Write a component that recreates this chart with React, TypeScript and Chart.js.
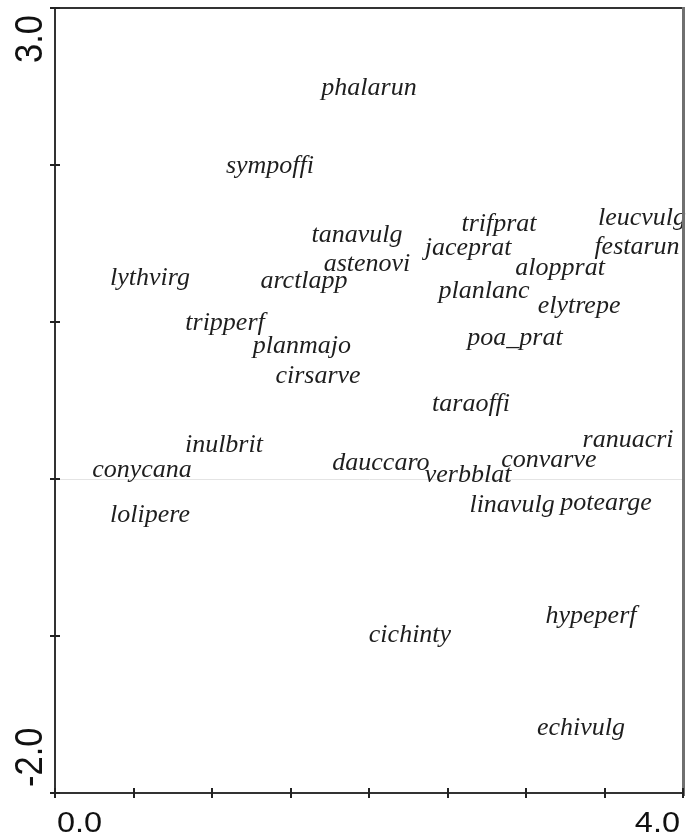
import React, { useEffect, useRef } from 'react';
import { Chart, registerables } from 'chart.js';

Chart.register(...registerables);

// Species labels and their ordination scores (axis 1, axis 2)
const speciesNames = [
  'phalarun', 'sympoffi', 'tanavulg', 'astenovi', 'lythvirg', 'arctlapp',
  'tripperf', 'planmajo', 'cirsarve', 'trifprat', 'leucvulg', 'jaceprat',
  'festarun', 'alopprat', 'planlanc', 'elytrepe', 'poa_prat', 'taraoffi',
  'inulbrit', 'conycana', 'lolipere', 'ranuacri', 'dauccaro', 'verbblat',
  'convarve', 'linavulg', 'potearge', 'hypeperf', 'cichinty', 'echivulg',
];
const axis1Scores = [
  2.0, 1.369, 1.924, 1.987, 0.605, 1.586,
  1.083, 1.573, 1.675, 2.828, 3.739, 2.631,
  3.707, 3.217, 2.732, 3.338, 2.93, 2.65,
  1.076, 0.554, 0.605, 3.65, 2.076, 2.631,
  3.146, 2.911, 3.51, 3.414, 2.261, 3.35,
];
const axis2Scores = [
  2.484, 1.987, 1.548, 1.363, 1.274, 1.255,
  0.987, 0.841, 0.65, 1.618, 1.656, 1.465,
  1.471, 1.338, 1.191, 1.096, 0.892, 0.471,
  0.21, 0.051, -0.236, 0.242, 0.096, 0.019,
  0.115, -0.172, -0.159, -0.879, -1.0, -1.592,
];

const xMin = 0;
const xMax = 4;
const xStep = 0.5;
const yMin = -2;
const yMax = 3;
const yStep = 1;
const xTickLabels = ['0.0', '4.0'];
const yTickLabels = ['3.0', '-2.0'];

const speciesLabelPlugin = {
  id: 'speciesLabels',
  afterDatasetsDraw(chart: any) {
    const meta = chart.getDatasetMeta(0);
    const ctx = chart.ctx;
    ctx.save();
    ctx.font = 'italic 26px "Liberation Serif"';
    ctx.fillStyle = '#1e1e1e';
    ctx.textAlign = 'center';
    ctx.textBaseline = 'alphabetic';
    meta.data.forEach((el: any, i: number) => {
      ctx.fillText(speciesNames[i], el.x, el.y + 6);
    });
    ctx.restore();
  },
};

const framePlugin = {
  id: 'frame',
  afterDraw(chart: any) {
    const { ctx, chartArea: a, scales } = chart;
    const xs = scales.x;
    const ys = scales.y;
    ctx.save();
    // top border
    ctx.strokeStyle = '#333';
    ctx.lineWidth = 2;
    ctx.beginPath();
    ctx.moveTo(a.left, a.top);
    ctx.lineTo(a.right + 2, a.top);
    ctx.stroke();
    // right border
    ctx.strokeStyle = '#707070';
    ctx.lineWidth = 3;
    ctx.beginPath();
    ctx.moveTo(a.right + 0.5, a.top - 1);
    ctx.lineTo(a.right + 0.5, a.bottom + 3);
    ctx.stroke();
    // crossing tick marks
    ctx.strokeStyle = '#222';
    ctx.lineWidth = 2;
    xs.ticks.forEach((t: any) => {
      const px = Math.round(xs.getPixelForValue(t.value));
      ctx.beginPath();
      ctx.moveTo(px, a.bottom - 5);
      ctx.lineTo(px, a.bottom + 5);
      ctx.stroke();
    });
    ys.ticks.forEach((t: any) => {
      const py = Math.round(ys.getPixelForValue(t.value));
      ctx.beginPath();
      ctx.moveTo(a.left - 5, py);
      ctx.lineTo(a.left + 5, py);
      ctx.stroke();
    });
    // x tick labels (first/last, inner aligned)
    ctx.fillStyle = '#111';
    ctx.font = '29px "Liberation Sans"';
    ctx.textBaseline = 'alphabetic';
    ctx.save();
    ctx.translate(xs.getPixelForValue(xMin) + 2, a.bottom + 39);
    ctx.scale(1.12, 1);
    ctx.textAlign = 'left';
    ctx.fillText(xTickLabels[0], 0, 0);
    ctx.restore();
    ctx.save();
    ctx.translate(xs.getPixelForValue(xMax) - 3, a.bottom + 39);
    ctx.scale(1.12, 1);
    ctx.textAlign = 'right';
    ctx.fillText(xTickLabels[1], 0, 0);
    ctx.restore();
    // y tick labels (rotated, inner aligned)
    ctx.font = '39px "Liberation Sans"';
    ctx.save();
    ctx.translate(a.left - 13, ys.getPixelForValue(yMax) + 7);
    ctx.rotate(-Math.PI / 2);
    ctx.scale(0.885, 1);
    ctx.textAlign = 'right';
    ctx.fillText(yTickLabels[0], 0, 0);
    ctx.restore();
    ctx.save();
    ctx.translate(a.left - 13, ys.getPixelForValue(yMin) - 6);
    ctx.rotate(-Math.PI / 2);
    ctx.scale(0.885, 1);
    ctx.textAlign = 'left';
    ctx.fillText(yTickLabels[1], 0, 0);
    ctx.restore();
    ctx.restore();
  },
};

export default function App() {
  const canvasRef = useRef<HTMLCanvasElement | null>(null);

  useEffect(() => {
    if (!canvasRef.current) return;
    const points = speciesNames.map((_, i) => ({ x: axis1Scores[i], y: axis2Scores[i] }));
    const chart = new Chart(canvasRef.current, {
      type: 'scatter',
      data: {
        datasets: [
          {
            label: 'species',
            data: points,
            pointRadius: 0,
            pointHoverRadius: 0,
            showLine: false,
          },
        ],
      },
      options: {
        responsive: false,
        animation: false,
        events: [],
        layout: { padding: { left: 55, top: 8, right: 16, bottom: 45 } },
        plugins: {
          legend: { display: false },
          tooltip: { enabled: false },
        },
        scales: {
          x: {
            type: 'linear',
            min: xMin,
            max: xMax,
            ticks: { display: false, stepSize: xStep },
            grid: { drawTicks: false, color: 'rgba(0,0,0,0)' },
            border: { display: true, color: '#333', width: 2 },
          },
          y: {
            type: 'linear',
            min: yMin,
            max: yMax,
            ticks: { display: false, stepSize: yStep },
            grid: {
              drawTicks: false,
              lineWidth: 1,
              color: (c: any) => (c.tick && c.tick.value === 0 ? '#e4e4e4' : 'rgba(0,0,0,0)'),
            },
            border: { display: true, color: '#333', width: 2 },
          },
        },
      },
      plugins: [speciesLabelPlugin, framePlugin],
    });
    return () => chart.destroy();
  }, []);

  return (
    <div style={{ position: 'fixed', left: 0, top: 0, width: 699, height: 838, background: '#fff' }}>
      <canvas ref={canvasRef} width={699} height={838} style={{ display: 'block' }} />
    </div>
  );
}
